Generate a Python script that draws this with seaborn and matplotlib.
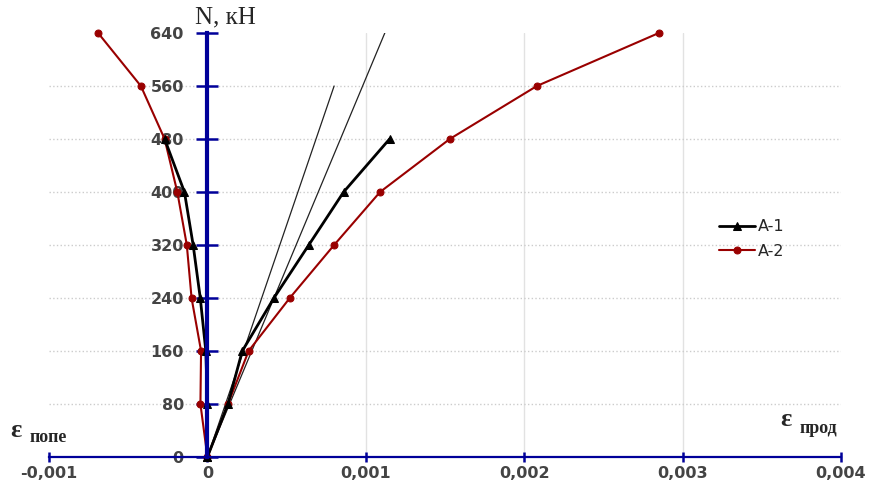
import numpy as np
import pandas as pd
import matplotlib.pyplot as plt
import seaborn as sns

# load levels, kN
N = [0, 80, 160, 240, 320, 400, 480, 560, 640]

# A-1: longitudinal (+) and transverse (-) strains
a1_long = [0, 0.00013, 0.00022, 0.00042, 0.00064, 0.00086, 0.00115]
a1_trans = [0, 0.0, -0.00001, -0.000045, -0.00009, -0.000145, -0.00027]

# A-2
a2_long = [0, 0.00013, 0.00026, 0.00052, 0.0008, 0.00109, 0.00153, 0.00208, 0.00285]
a2_trans = [0, -0.000044, -0.00004, -0.0001, -0.00013, -0.00019, -0.00027, -0.00042, -0.00069]

# thin straight reference lines
ref1_eps = [0, 0.0008]
ref1_N = [0, 560]
ref2_eps = [0, 0.00112]
ref2_N = [0, 640]

x_ticks = [-0.001, 0, 0.001, 0.002, 0.003, 0.004]
x_labels = ['-0,001', '0', '0,001', '0,002', '0,003', '0,004']

sns.set_style("white")
plt.rcParams['font.family'] = ['DejaVu Sans']

fig = plt.figure(figsize=(8.7, 4.86), dpi=100)
ax = fig.add_axes([49/870, 29/486, (841-49)/870, (457-33)/486])

red = '#990000'
blue = '#000099'

# reference lines
sns.lineplot(x=ref1_eps, y=ref1_N, sort=False, estimator=None, color='#222222', lw=0.9, ax=ax)
sns.lineplot(x=ref2_eps, y=ref2_N, sort=False, estimator=None, color='#222222', lw=0.9, ax=ax)

# A-2
sns.lineplot(x=a2_long, y=N, sort=False, estimator=None, color=red, lw=1.5, marker='o',
             markersize=5, markeredgecolor=red, label='A-2', ax=ax, clip_on=False)
sns.lineplot(x=a2_trans, y=N, sort=False, estimator=None, color=red, lw=1.5, marker='o',
             markersize=5, markeredgecolor=red, ax=ax, clip_on=False)
# A-1
sns.lineplot(x=a1_long, y=N[:len(a1_long)], sort=False, estimator=None, color='black', lw=2,
             marker='^', markersize=6, markeredgecolor='black', label='A-1', ax=ax, clip_on=False)
sns.lineplot(x=a1_trans, y=N[:len(a1_trans)], sort=False, estimator=None, color='black', lw=2,
             marker='^', markersize=6, markeredgecolor='black', ax=ax, clip_on=False)

ax.set_xlim(-0.001, 0.004)
ax.set_ylim(0, 640)
ax.set_xticks(x_ticks)
ax.set_xticklabels(x_labels)
ax.set_yticks(N)
ax.set_xlabel('')
ax.set_ylabel('')

for s in ['top', 'right']:
    ax.spines[s].set_visible(False)
ax.spines['left'].set_position(('data', 0))
ax.spines['left'].set_color(blue)
ax.spines['left'].set_linewidth(3)
ax.spines['bottom'].set_color(blue)
ax.spines['bottom'].set_linewidth(1.6)

ax.tick_params(axis='y', left=True, direction='inout', length=16, width=1.8, color=blue, pad=9,
               labelsize=11.5, labelcolor='#444444')
ax.tick_params(axis='x', bottom=True, direction='inout', length=7, width=1.8, color=blue, pad=3,
               labelsize=11.5, labelcolor='#444444')
for lab in ax.get_xticklabels() + ax.get_yticklabels():
    lab.set_fontweight('bold')

ax.grid(True, axis='y', linestyle=':', color='#cccccc', lw=1)
ax.grid(True, axis='x', linestyle='-', color='#e2e2e2', lw=1)
xg = ax.get_xgridlines()
xg[0].set_visible(False)
xg[-1].set_visible(False)
ax.get_ygridlines()[-1].set_visible(False)
ax.set_axisbelow(True)

handles, labels = ax.get_legend_handles_labels()
order = [labels.index('A-1'), labels.index('A-2')]
ax.legend([handles[i] for i in order], [labels[i] for i in order],
          loc='upper left', bbox_to_anchor=(705/870, 1-205/486), bbox_transform=fig.transFigure,
          frameon=False, fontsize=11.5, handlelength=2.2, handletextpad=0.2, labelspacing=0.6)

fig.text(225/870, 1-17/486, 'N, кН', ha='center', va='center', fontsize=18,
         family='Liberation Serif')
fig.text(10/870, 1-430/486, 'ε', ha='left', va='center', fontsize=19,
         family='Liberation Serif', fontweight='bold')
fig.text(30/870, 1-437/486, 'попе', ha='left', va='center', fontsize=13,
         family='Liberation Serif', fontweight='bold')
fig.text(780/870, 1-420/486, 'ε', ha='left', va='center', fontsize=19,
         family='Liberation Serif', fontweight='bold')
fig.text(800/870, 1-428/486, 'прод', ha='left', va='center', fontsize=13,
         family='Liberation Serif', fontweight='bold')

fig.savefig('out.png', dpi=100)
